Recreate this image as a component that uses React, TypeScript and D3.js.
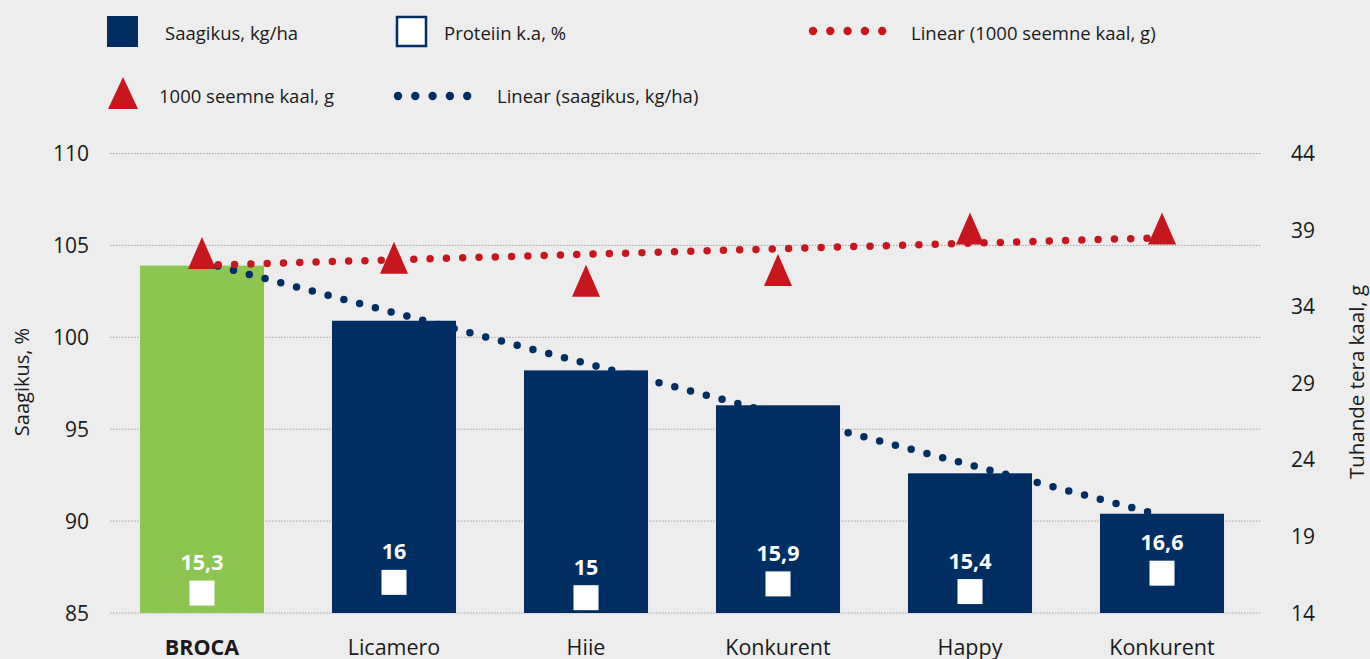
import React from "react";
import * as d3 from "d3";

const categories = ["BROCA", "Licamero", "Hiie", "Konkurent", "Happy", "Konkurent"];
const yieldPct = [103.9, 100.9, 98.2, 96.3, 92.6, 90.4];
const protein = [15.3, 16, 15, 15.9, 15.4, 16.6];
const proteinLabels = ["15,3", "16", "15", "15,9", "15,4", "16,6"];
const seedWeight = [37.5, 37.2, 35.7, 36.4, 39.1, 39.1];
const yieldTrend = [104.1, 90.3];
const weightTrend = [36.7, 38.5];
const leftTicks = [85, 90, 95, 100, 105, 110];
const rightTicks = [14, 19, 24, 29, 34, 39, 44];

const W = 1370;
const H = 659;
const NAVY = "#002E63";
const GREEN = "#8CC651";
const RED = "#C8161E";
const BG = "#EDEDED";
const FONT = "'Open Sans', 'Noto Sans', sans-serif";

export default function App() {
  const x = d3
    .scaleBand<number>()
    .domain(d3.range(categories.length))
    .range([106, 1258])
    .paddingInner(0.354)
    .paddingOuter(0.177);
  const yL = d3.scaleLinear().domain([85, 110]).range([613, 153.5]);
  const yR = d3.scaleLinear().domain([14, 44]).range([613, 153.5]);
  const cx = (i: number) => (x(i) as number) + x.bandwidth() / 2;

  const firstX = cx(0);
  const lastX = cx(categories.length - 1);
  const line = d3.line<[number, number]>().x((d) => d[0]).y((d) => d[1]);
  const yieldPath = line([
    [firstX, yL(yieldTrend[0])],
    [lastX, yL(yieldTrend[1])],
  ]);
  const weightPath = line([
    [firstX, yR(weightTrend[0])],
    [lastX, yR(weightTrend[1])],
  ]);

  const tri = (px: number, py: number) =>
    `M${px},${py - 16}L${px + 14},${py + 16}L${px - 14},${py + 16}Z`;

  const legendDots = (x0: number, y0: number, color: string) =>
    d3.range(5).map((k) => (
      <circle key={k} cx={x0 + k * 17.3} cy={y0} r={4.2} fill={color} />
    ));

  return (
    <svg
      width={W}
      height={H}
      style={{ position: "absolute", left: 0, top: 0, display: "block" }}
      fontFamily={FONT}
    >
      <rect width={W} height={H} fill={BG} />

      {/* legend */}
      <g fontSize={18.5} fill="#1a1a1a">
        <rect x={107} y={16} width={31} height={31} fill={NAVY} />
        <text x={165} y={40}>Saagikus, kg/ha</text>
        <rect x={397} y={17} width={29} height={29} fill="#fff" stroke={NAVY} strokeWidth={2.5} />
        <text x={444} y={40}>Proteiin k.a, %</text>
        {legendDots(813, 31, RED)}
        <text x={911} y={40}>Linear (1000 seemne kaal, g)</text>
        <path d={`M123,77L138,109L108,109Z`} fill={RED} />
        <text x={159} y={103}>1000 seemne kaal, g</text>
        {legendDots(398, 96, NAVY)}
        <text x={497} y={103}>Linear (saagikus, kg/ha)</text>
      </g>

      {/* grid */}
      {leftTicks.map((t) => (
        <line
          key={t}
          x1={110}
          x2={1261}
          y1={yL(t)}
          y2={yL(t)}
          stroke="#A3A3A3"
          strokeWidth={1}
          strokeDasharray="1.5 1.5"
        />
      ))}

      {/* left ticks */}
      {leftTicks.map((t) => (
        <text key={t} x={89} y={yL(t)} dy="0.36em" textAnchor="end" fontSize={21} fill="#1a1a1a">
          {t}
        </text>
      ))}
      {/* right ticks */}
      {rightTicks.map((t) => (
        <text key={t} x={1291} y={yR(t)} dy="0.36em" textAnchor="start" fontSize={21} fill="#1a1a1a">
          {t}
        </text>
      ))}

      {/* axis titles */}
      <text
        transform={`translate(29,382) rotate(-90)`}
        textAnchor="middle"
        fontSize={20}
        fill="#1a1a1a"
      >
        Saagikus, %
      </text>
      <text
        transform={`translate(1364,382) rotate(-90)`}
        textAnchor="middle"
        fontSize={20.5}
        fill="#1a1a1a"
      >
        Tuhande tera kaal, g
      </text>

      {/* bars */}
      {yieldPct.map((v, i) => (
        <rect
          key={i}
          x={x(i)}
          y={yL(v)}
          width={x.bandwidth()}
          height={yL(85) - yL(v)}
          fill={i === 0 ? GREEN : NAVY}
        />
      ))}

      {/* protein markers + labels */}
      {protein.map((v, i) => (
        <g key={i}>
          <rect x={cx(i) - 12.5} y={yR(v) - 12.5} width={25} height={25} fill="#fff" />
          <text
            x={cx(i)}
            y={yR(v) - 23}
            textAnchor="middle"
            fontSize={21.5}
            fontWeight={700}
            fill="#fff"
          >
            {proteinLabels[i]}
          </text>
        </g>
      ))}

      {/* category labels */}
      {categories.map((c, i) => (
        <text
          key={i}
          x={cx(i)}
          y={655}
          textAnchor="middle"
          fontSize={21.5}
          fontWeight={i === 0 ? 700 : 400}
          fill="#1a1a1a"
        >
          {c}
        </text>
      ))}

      {/* trend lines */}
      <path
        d={yieldPath || ""}
        fill="none"
        stroke={NAVY}
        strokeWidth={7.5}
        strokeLinecap="round"
        strokeDasharray="0 16.3"
      />
      <path
        d={weightPath || ""}
        fill="none"
        stroke={RED}
        strokeWidth={7.5}
        strokeLinecap="round"
        strokeDasharray="0 16.3"
      />

      {/* seed weight triangles */}
      {seedWeight.map((v, i) => (
        <path key={i} d={tri(cx(i), yR(v))} fill={RED} />
      ))}
    </svg>
  );
}
